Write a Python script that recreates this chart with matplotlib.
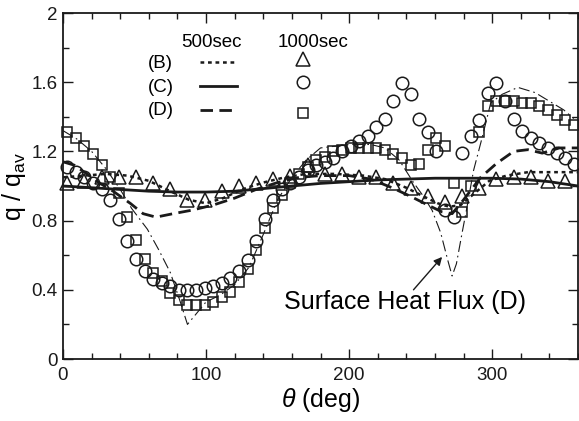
import matplotlib
matplotlib.use('Agg')
import matplotlib.pyplot as plt
from matplotlib.ticker import MultipleLocator, FixedLocator, FixedFormatter

plt.rcParams['font.family'] = ['Liberation Sans', 'DejaVu Sans']
plt.rcParams['mathtext.fontset'] = 'custom'
plt.rcParams['mathtext.rm'] = 'Liberation Sans'
plt.rcParams['mathtext.it'] = 'Liberation Sans:italic'

# measured points at 1000 sec (circles and squares every 6 deg, triangles every 12 deg)
theta_pts = [3, 9, 15, 21, 27, 33, 39, 45, 51, 57, 63, 69, 75, 81, 87, 93, 99, 105, 111, 117,
             123, 129, 135, 141, 147, 153, 159, 165, 171, 177, 183, 189, 195, 201, 207, 213, 219,
             225, 231, 237, 243, 249, 255, 261, 267, 273, 279, 285, 291, 297, 303, 309, 315, 321,
             327, 333, 339, 345, 351, 357]
q_c_1000 = [1.11, 1.08, 1.05, 1.02, 0.98, 0.92, 0.81, 0.68, 0.58, 0.51, 0.46, 0.44, 0.42, 0.40,
            0.40, 0.40, 0.41, 0.42, 0.44, 0.47, 0.51, 0.57, 0.68, 0.81, 0.92, 0.98, 1.02, 1.05,
            1.09, 1.12, 1.14, 1.16, 1.20, 1.23, 1.26, 1.29, 1.34, 1.39, 1.49, 1.595, 1.53, 1.39,
            1.31, 1.20, 0.86, 0.82, 1.19, 1.29, 1.38, 1.54, 1.595, 1.49, 1.39, 1.32, 1.28, 1.25,
            1.22, 1.19, 1.16, 1.13]
q_d_1000 = [1.31, 1.28, 1.23, 1.185, 1.12, 1.05, 0.96, 0.82, 0.69, 0.58, 0.50, 0.45, 0.38, 0.34,
            0.31, 0.31, 0.31, 0.33, 0.36, 0.39, 0.445, 0.52, 0.63, 0.76, 0.87, 0.95, 1.02, 1.07,
            1.11, 1.15, 1.17, 1.20, 1.21, 1.22, 1.22, 1.22, 1.22, 1.21, 1.185, 1.16, 1.12, 1.13,
            1.21, 1.28, 1.23, 1.02, 0.85, 1.00, 1.31, 1.46, 1.49, 1.49, 1.49, 1.48, 1.48, 1.46,
            1.44, 1.41, 1.38, 1.35]
theta_tri = [3, 15, 27, 39, 51, 63, 75, 87, 99, 111, 123, 135, 147, 159, 171, 183, 195, 207,
             219, 231, 243, 255, 267, 279, 291, 303, 315, 327, 339, 351]
q_b_1000 = [1.02, 1.03, 1.05, 1.05, 1.05, 1.02, 0.98, 0.92, 0.92, 0.97, 1.00, 1.02, 1.04, 1.06,
            1.12, 1.07, 1.07, 1.05, 1.05, 1.02, 0.99, 0.94, 0.91, 0.94, 0.99, 1.04, 1.05, 1.05,
            1.03, 1.03]

# 500 sec curves
theta_b = [0, 15, 30, 45, 60, 75, 88, 100, 112, 125, 140, 155, 170, 190, 210, 225, 240, 252,
           262, 270, 278, 288, 298, 310, 325, 340, 355, 360]
q_b_500 = [1.05, 1.06, 1.07, 1.06, 1.03, 0.97, 0.92, 0.90, 0.93, 0.98, 1.02, 1.05, 1.07, 1.07,
           1.06, 1.04, 0.99, 0.94, 0.90, 0.88, 0.89, 0.96, 1.03, 1.06, 1.08, 1.08, 1.08, 1.08]
theta_c = [0, 20, 40, 60, 80, 100, 120, 140, 160, 180, 200, 220, 240, 260, 280, 300, 320, 340,
           360]
q_c_500 = [1.00, 0.99, 0.98, 0.97, 0.965, 0.965, 0.97, 0.985, 1.00, 1.015, 1.025, 1.035, 1.04,
           1.045, 1.045, 1.045, 1.04, 1.025, 1.00]
theta_d = [0, 8, 15, 25, 35, 47, 56, 65, 77, 90, 105, 120, 135, 150, 165, 180, 200, 215, 230,
           243, 255, 265, 272, 280, 292, 303, 315, 325, 335, 347, 360]
q_d_500 = [1.14, 1.12, 1.08, 1.02, 0.97, 0.90, 0.84, 0.82, 0.84, 0.86, 0.89, 0.93, 0.98, 1.02,
           1.05, 1.06, 1.06, 1.04, 0.99, 0.94, 0.89, 0.85, 0.84, 0.92, 1.05, 1.13, 1.20, 1.21,
           1.19, 1.22, 1.22]

# surface heat flux, case D
theta_s = [0, 10, 20, 30, 40, 48, 59, 67, 75, 82, 87, 92, 100, 110, 120, 130, 140, 150, 160,
           170, 180, 200, 215, 225, 235, 245, 252, 258, 264, 269, 272, 275, 279, 282, 287, 293,
           299, 307, 318, 330, 340, 350, 357]
q_s = [1.32, 1.27, 1.20, 1.10, 0.98, 0.87, 0.75, 0.63, 0.50, 0.33, 0.20, 0.25, 0.33, 0.37, 0.43,
       0.53, 0.72, 0.92, 1.05, 1.15, 1.22, 1.24, 1.24, 1.22, 1.15, 1.02, 0.94, 0.86, 0.73, 0.57,
       0.48, 0.55, 0.73, 0.86, 1.09, 1.28, 1.48, 1.53, 1.57, 1.54, 1.49, 1.44, 1.39]

y_ticks = [0, 0.4, 0.8, 1.2, 1.6, 2.0]
y_tick_labels = ['0', '0.4', '0.8', '1.2', '1.6', '2']

ink = '#1a1a1a'
fig = plt.figure(figsize=(5.79, 4.21), dpi=100)
ax = fig.add_axes([63 / 579, 62 / 421, 515 / 579, 346 / 421])

ax.plot(theta_s, q_s, color=ink, lw=0.8, dashes=(10, 3.5, 1.5, 3.5))
ax.plot(theta_b, q_b_500, color=ink, lw=1.8, dashes=(1.5, 1.5))
ax.plot(theta_c, q_c_500, color=ink, lw=2.0)
ax.plot(theta_d, q_d_500, color=ink, lw=2.0, dashes=(4.5, 2.3))

mk = dict(ls='none', mfc='none', mec=ink, mew=1.1, clip_on=False)
ax.plot(theta_tri, q_b_1000, marker='^', ms=9.5, **mk)
ax.plot(theta_pts, q_c_1000, marker='o', ms=9, **mk)
ax.plot(theta_pts, q_d_1000, marker='s', ms=7.5, **mk)

# hand-built key
ta = ax.transAxes
fs = 13.5
ax.text(0.289, 0.916, '500sec', transform=ta, ha='center', va='center', fontsize=fs)
ax.text(0.486, 0.916, '1000sec', transform=ta, ha='center', va='center', fontsize=fs)
rows = [('(B)', 0.855, dict(lw=1.8, dashes=(1.5, 1.5)), '^', 0.867, 9.5),
        ('(C)', 0.786, dict(lw=2.0), 'o', 0.800, 9),
        ('(D)', 0.717, dict(lw=2.0, dashes=(4.5, 2.3)), 's', 0.711, 7.5)]
for name, yy, style, m, ym, ms in rows:
    ax.text(0.190, yy, name, transform=ta, ha='center', va='center', fontsize=fs)
    ax.plot([0.266, 0.338], [yy + 0.004, yy + 0.004], transform=ta, color=ink, **style)
    ax.plot([0.466], [ym], transform=ta, marker=m, ms=ms, **mk)

ax.text(239, 0.33, 'Surface Heat Flux (D)', ha='center', va='center', fontsize=18)
ax.annotate('', xy=(265, 0.59), xytext=(245, 0.40),
            arrowprops=dict(arrowstyle='-|>', color=ink, lw=1.0, mutation_scale=12,
                            shrinkA=0, shrinkB=0))

ax.set_xlim(0, 360)
ax.set_ylim(0, 2)
ax.set_xticks([0, 100, 200, 300])
ax.xaxis.set_minor_locator(MultipleLocator(20))
ax.yaxis.set_major_locator(FixedLocator(y_ticks))
ax.yaxis.set_major_formatter(FixedFormatter(y_tick_labels))
ax.yaxis.set_minor_locator(MultipleLocator(0.2))
ax.tick_params(which='both', direction='in', top=True, right=True, width=1.0, colors=ink,
               labelsize=13.5)
ax.tick_params(which='major', length=7)
ax.tick_params(which='minor', length=4.5)
ax.tick_params(axis='x', pad=6)
ax.tick_params(axis='y', pad=4)
for s in ax.spines.values():
    s.set_linewidth(1.3)
    s.set_color(ink)

ax.set_xlabel(r'$\theta$ (deg)', fontsize=18, labelpad=1)
ax.set_ylabel(r'q / q$_{\rm av}$', fontsize=18, labelpad=2)

fig.savefig('out.png', dpi=100)
